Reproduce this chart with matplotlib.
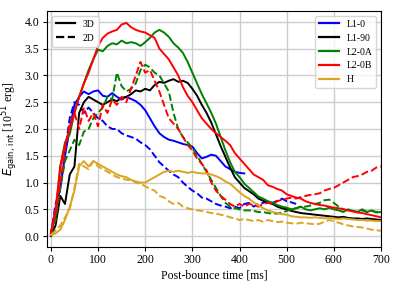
import matplotlib
matplotlib.use('Agg')
import matplotlib.pyplot as plt
import numpy as np
from matplotlib.lines import Line2D

plt.rcParams['font.family'] = ['Liberation Serif', 'DejaVu Serif']

# post-bounce time [ms], 10 ms sampling
t = np.arange(0, 701, 10)

l10_3d = [0.02, 0.5, 0.9, 1.5, 2.0, 2.45, 2.6, 2.7, 2.65, 2.7, 2.72, 2.62, 2.6, 2.67, 2.6,
          2.55, 2.6, 2.56, 2.52, 2.45, 2.35, 2.2, 2.05, 1.92, 1.85, 1.8, 1.78, 1.75, 1.72,
          1.7, 1.67, 1.55, 1.45, 1.48, 1.52, 1.5, 1.4, 1.3, 1.25, 1.2, 1.18, 1.17]
l10_2d = [0.02, 0.6, 0.9, 1.6, 2.2, 2.5, 2.45, 2.3, 2.4, 2.3, 2.2, 2.15, 2.05, 2.0, 2.0,
          1.92, 1.88, 1.85, 1.82, 1.75, 1.7, 1.62, 1.5, 1.38, 1.3, 1.22, 1.15, 1.1, 1.0,
          0.92, 0.85, 0.8, 0.72, 0.7, 0.65, 0.6, 0.57, 0.55, 0.52, 0.55, 0.52, 0.6, 0.62,
          0.55, 0.6, 0.62, 0.65, 0.62, 0.66, 0.7, 0.65, 0.63, 0.6]
l190_3d = [0.0, 0.2, 0.75, 0.6, 1.15, 1.3, 2.3, 2.5, 2.6, 2.55, 2.5, 2.45, 2.5, 2.55, 2.52,
           2.58, 2.6, 2.65, 2.72, 2.7, 2.75, 2.72, 2.82, 2.88, 2.86, 2.9, 2.93, 2.88, 2.9,
           2.86, 2.75, 2.62, 2.45, 2.3, 2.12, 1.9, 1.68, 1.48, 1.28, 1.1, 1.0, 0.9, 0.84,
           0.78, 0.7, 0.66, 0.63, 0.6, 0.55, 0.52, 0.5, 0.47, 0.45, 0.43, 0.42, 0.41, 0.4,
           0.39, 0.38, 0.37, 0.36, 0.35, 0.36, 0.34, 0.33, 0.33, 0.32, 0.33, 0.32, 0.31, 0.3]
l20a_3d = [0.05, 0.4, 1.3, 1.75, 1.9, 2.3, 2.6, 2.85, 3.1, 3.3, 3.48, 3.45, 3.55, 3.6, 3.58,
           3.65, 3.6, 3.62, 3.6, 3.55, 3.62, 3.7, 3.8, 3.85, 3.8, 3.72, 3.6, 3.52, 3.42,
           3.25, 3.05, 2.85, 2.65, 2.48, 2.3, 2.1, 1.85, 1.6, 1.38, 1.2, 1.1, 0.98, 0.9,
           0.82, 0.74, 0.7, 0.65, 0.62, 0.58, 0.55, 0.53, 0.5, 0.52, 0.55, 0.5, 0.48, 0.5,
           0.52, 0.5, 0.53, 0.5, 0.48, 0.45, 0.5, 0.47, 0.45, 0.5, 0.45, 0.48, 0.44, 0.45]
l20a_2d = [0.05, 0.3, 0.9, 1.4, 1.6, 1.8, 1.7, 1.95, 2.0, 2.2, 2.3, 2.4, 2.6, 2.55, 3.05,
           2.8, 2.7, 2.75, 2.85, 3.1, 3.2, 3.15, 3.05, 3.0, 2.85, 2.7, 2.3, 2.0, 1.85, 1.75,
           1.65, 1.5, 1.35, 1.2, 1.05, 0.9, 0.75, 0.62, 0.55, 0.52, 0.5, 0.48, 0.48, 0.47,
           0.45, 0.45, 0.43, 0.42, 0.42, 0.44, 0.47, 0.5, 0.52, 0.55, 0.55, 0.57, 0.6, 0.62,
           0.67, 0.68, 0.62, 0.55, 0.5, 0.48, 0.47, 0.45, 0.48, 0.45, 0.47, 0.45, 0.47]
l20b_3d = [0.05, 0.5, 1.3, 1.7, 2.0, 2.3, 2.6, 2.85, 3.05, 3.3, 3.55, 3.7, 3.78, 3.82, 3.85,
           3.95, 3.98, 3.9, 3.85, 3.82, 3.8, 3.75, 3.7, 3.5, 3.4, 3.3, 3.15, 3.0, 2.78, 2.62,
           2.5, 2.35, 2.2, 2.1, 2.0, 1.92, 1.85, 1.78, 1.7, 1.55, 1.45, 1.35, 1.25, 1.15,
           1.1, 1.05, 0.95, 0.92, 0.88, 0.85, 0.78, 0.75, 0.72, 0.7, 0.65, 0.62, 0.6, 0.58,
           0.57, 0.55, 0.53, 0.52, 0.5, 0.48, 0.46, 0.44, 0.43, 0.41, 0.39, 0.37, 0.35]
l20b_2d = [0.05, 0.4, 1.0, 1.6, 2.1, 2.3, 2.0, 2.4, 2.15, 2.3, 2.05, 2.45, 2.3, 2.55, 2.45,
           2.6, 2.5, 2.75, 3.0, 3.25, 3.05, 3.1, 2.9, 2.7, 2.45, 2.2, 2.1, 2.0, 1.85, 1.7,
           1.6, 1.45, 1.35, 1.23, 1.0, 0.85, 0.75, 0.68, 0.6, 0.55, 0.6, 0.55, 0.6, 0.58,
           0.55, 0.6, 0.62, 0.6, 0.65, 0.68, 0.7, 0.72, 0.7, 0.73, 0.75, 0.77, 0.78, 0.8,
           0.85, 0.88, 0.9, 0.95, 1.0, 1.05, 1.1, 1.12, 1.15, 1.2, 1.22, 1.28, 1.3]
h_3d = [0.02, 0.05, 0.12, 0.3, 0.55, 0.85, 1.3, 1.4, 1.3, 1.4, 1.35, 1.3, 1.25, 1.2, 1.15,
        1.12, 1.1, 1.05, 1.02, 1.0, 1.0, 1.05, 1.1, 1.15, 1.2, 1.22, 1.2, 1.22, 1.2, 1.18,
        1.2, 1.18, 1.17, 1.17, 1.15, 1.12, 1.08, 1.02, 0.98, 0.9, 0.82, 0.75, 0.7, 0.63,
        0.57, 0.52, 0.48, 0.45, 0.43, 0.41, 0.4, 0.37, 0.36, 0.35, 0.35, 0.34, 0.35, 0.34,
        0.33, 0.34, 0.33, 0.32, 0.33, 0.32, 0.31, 0.3, 0.3, 0.29, 0.29, 0.28, 0.28]
h_2d = [0.02, 0.1, 0.2, 0.35, 0.5, 0.9, 1.35, 1.3, 1.25, 1.4, 1.3, 1.25, 1.2, 1.15, 1.1,
        1.08, 1.05, 1.05, 1.0, 0.98, 0.93, 0.88, 0.85, 0.75, 0.72, 0.65, 0.6, 0.62, 0.55,
        0.52, 0.5, 0.48, 0.47, 0.45, 0.43, 0.42, 0.4, 0.38, 0.35, 0.33, 0.3, 0.32, 0.3,
        0.28, 0.3, 0.27, 0.3, 0.28, 0.26, 0.27, 0.25, 0.24, 0.23, 0.25, 0.24, 0.23, 0.22,
        0.23, 0.27, 0.3, 0.28, 0.25, 0.22, 0.2, 0.18, 0.17, 0.16, 0.14, 0.12, 0.11, 0.1]

models = ['L1-0', 'L1-90', 'L2-0A', 'L2-0B', 'H']
colors = ['blue', 'black', 'green', 'red', '#DAA520']
runs_3d = [l10_3d, l190_3d, l20a_3d, l20b_3d, h_3d]
runs_2d = [l10_2d, None, l20a_2d, l20b_2d, h_2d]

fig = plt.figure(figsize=(3.99, 2.85), dpi=100)
ax = fig.add_axes([0.118, 0.134, 0.837, 0.827])

for c, y3, y2 in zip(colors, runs_3d, runs_2d):
    ax.plot(t[:len(y3)], y3, color=c, lw=1.4)
    if y2 is not None:
        ax.plot(t[:len(y2)], y2, color=c, lw=1.4, ls='--')

ax.set_xlim(-8, 700)
ax.set_ylim(-0.2, 4.2)
ax.set_xticks([0, 100, 200, 300, 400, 500, 600, 700])
ax.set_yticks(np.arange(0, 4.01, 0.5))
ax.tick_params(labelsize=8.5, length=3, pad=2.5)
ax.grid(True, color='#cccccc', lw=1)
ax.set_axisbelow(True)
ax.set_xlabel('Post-bounce time [ms]', fontsize=8.5, labelpad=2)
ax.set_ylabel(r'$E_\mathrm{gain,\,int}$ [10$^{51}$ erg]', fontsize=8.5, labelpad=3)

dim_handles = [Line2D([], [], color='black', lw=1.6, ls='-'),
               Line2D([], [], color='black', lw=1.6, ls='--')]
leg1 = ax.legend(dim_handles, ['3D', '2D'], loc='upper left', fontsize=7)
ax.add_artist(leg1)
model_handles = [Line2D([], [], color=c, lw=1.6) for c in colors]
ax.legend(model_handles, models, loc='upper right', fontsize=7)

fig.savefig('out.png', dpi=100)
